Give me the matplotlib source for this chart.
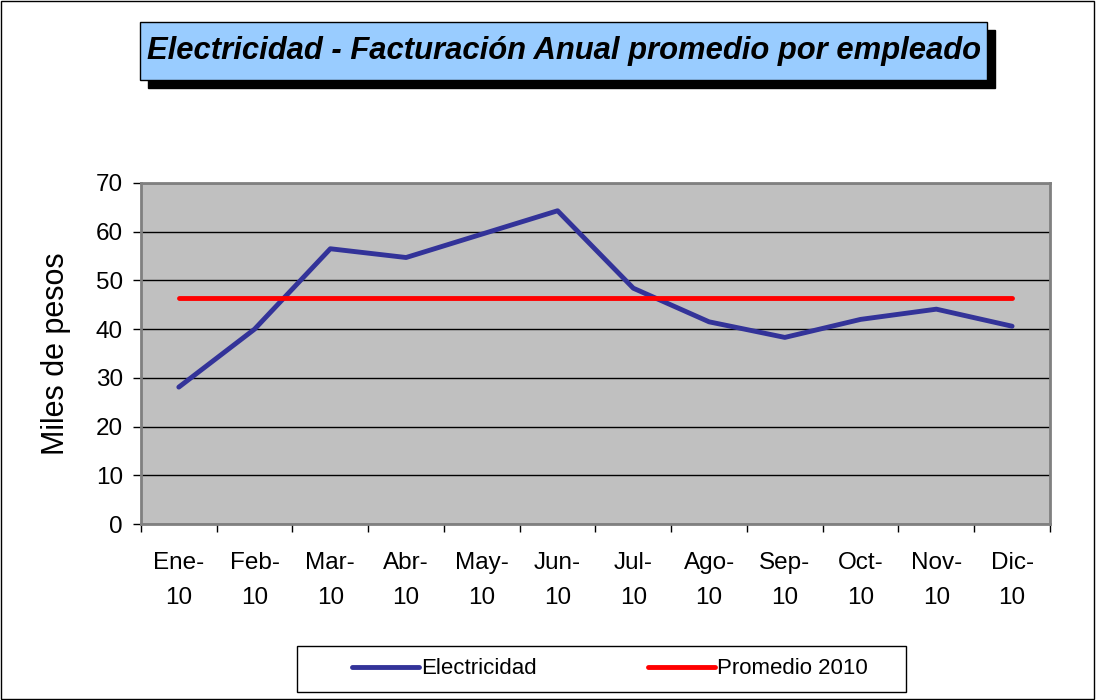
import matplotlib.pyplot as plt
from matplotlib.patches import Rectangle

# datos
meses = ['Ene-\n10', 'Feb-\n10', 'Mar-\n10', 'Abr-\n10', 'May-\n10', 'Jun-\n10',
         'Jul-\n10', 'Ago-\n10', 'Sep-\n10', 'Oct-\n10', 'Nov-\n10', 'Dic-\n10']
electricidad = [28.1, 40.0, 56.5, 54.7, 59.5, 64.3, 48.4, 41.5, 38.3, 42.0, 44.1, 40.6]
promedio_2010 = [46.4] * 12
y_ticks = [0, 10, 20, 30, 40, 50, 60, 70]

plt.rcParams['font.family'] = ['Liberation Sans', 'DejaVu Sans']

fig = plt.figure(figsize=(10.96, 7), dpi=100)
fig.patch.set_facecolor('white')
# marco exterior
fig.add_artist(Rectangle((0.0005, 0.001), 0.998, 0.997, transform=fig.transFigure,
                         fill=False, edgecolor='black', linewidth=1))

ax = fig.add_axes([0.1286, 0.2514, 0.8294, 0.4872])
ax.set_facecolor('#C0C0C0')

x = list(range(len(meses)))
ax.plot(x, electricidad, color='#333399', linewidth=3.5, solid_capstyle='round',
        label='Electricidad', zorder=3)
ax.plot(x, promedio_2010, color='#FF0000', linewidth=3.5, solid_capstyle='round',
        label='Promedio 2010', zorder=3)

ax.set_xlim(-0.5, len(meses) - 0.5)
ax.set_ylim(0, 70)
ax.set_yticks(y_ticks)
ax.set_yticklabels([str(v) for v in y_ticks], fontsize=17.5)
ax.yaxis.grid(True, color='black', linewidth=1)
ax.set_axisbelow(True)

# ticks entre categorias, etiquetas al centro
ax.set_xticks([i - 0.5 for i in range(len(meses) + 1)])
ax.set_xticklabels([])
ax.set_xticks(x, minor=True)
ax.set_xticklabels(meses, minor=True, fontsize=17.5, linespacing=1.75)
ax.tick_params(axis='x', which='minor', length=0, pad=20)
ax.tick_params(axis='x', which='major', direction='out', length=6, width=1, color='black')
ax.tick_params(axis='y', direction='out', length=6, width=1, color='black', pad=7)

for s in ax.spines.values():
    s.set_color('#808080')
    s.set_linewidth(2)

ax.set_ylabel('Miles de pesos', fontsize=22, labelpad=18)

# titulo con sombra
fig.add_artist(Rectangle((148 / 1096, 1 - 88 / 700), 847 / 1096, 58 / 700,
                         transform=fig.transFigure, facecolor='black', edgecolor='black'))
fig.add_artist(Rectangle((140 / 1096, 1 - 80 / 700), 847 / 1096, 58 / 700,
                         transform=fig.transFigure, facecolor='#99CCFF', edgecolor='black',
                         linewidth=1))
fig.text(564 / 1096, 1 - 51 / 700, 'Electricidad - Facturación Anual promedio por empleado',
         ha='center', va='center', fontsize=22.3, fontweight='bold', fontstyle='italic')

# leyenda con caja propia
fig.add_artist(Rectangle((297 / 1096, 1 - 692 / 700), 609 / 1096, 46 / 700,
                         transform=fig.transFigure, facecolor='white', edgecolor='black',
                         linewidth=1))
leg = fig.legend(loc='center', bbox_to_anchor=(610 / 1096, 1 - 669 / 700), ncol=2,
                 fontsize=16, frameon=False, handlelength=3.0,
                 columnspacing=5.0, handletextpad=0.1)

plt.savefig('out.png', dpi=100)
